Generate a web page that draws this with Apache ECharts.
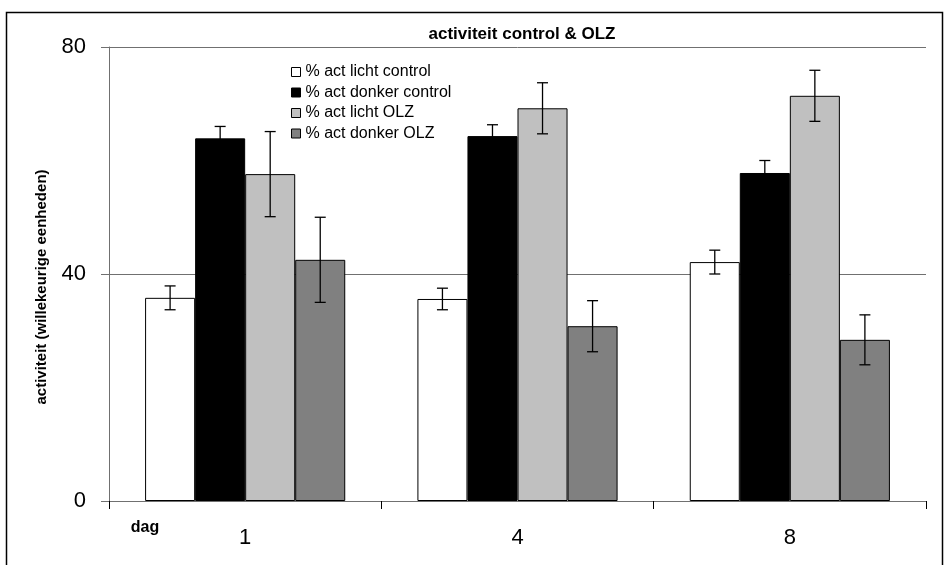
<!DOCTYPE html>
<html>
<head>
<meta charset="utf-8">
<script src="https://cdn.jsdelivr.net/npm/echarts@6/dist/echarts.min.js"></script>
<style>html,body{margin:0;padding:0;background:#fff}#c{width:944px;height:565px}</style>
</head>
<body>
<div id="c"></div>
<script>
const categories = ['1', '4', '8'];
const seriesNames = ['% act licht control', '% act donker control', '% act licht OLZ', '% act donker OLZ'];
const lichtControl = [35.8, 35.6, 42.1];
const lichtControlErr = [2.1, 1.9, 2.1];
const donkerControl = [63.9, 64.3, 57.8];
const donkerControlErr = [2.1, 2.0, 2.2];
const lichtOLZ = [57.6, 69.2, 71.4];
const lichtOLZErr = [7.5, 4.5, 4.5];
const donkerOLZ = [42.5, 30.8, 28.4];
const donkerOLZErr = [7.5, 4.5, 4.4];
const yTicks = [0, 40, 80];

const values = [lichtControl, donkerControl, lichtOLZ, donkerOLZ];
const errors = [lichtControlErr, donkerControlErr, lichtOLZErr, donkerOLZErr];
const colors = ['#FFFFFF', '#000000', '#C0C0C0', '#808080'];
const catGap = 0.265;
const FONT = 'Liberation Sans, Arial, sans-serif';

const chart = echarts.init(document.getElementById('c'), null, {renderer: 'canvas'});

const series = [];
values.forEach((v, i) => {
  series.push({
    name: seriesNames[i],
    type: 'bar',
    data: v,
    barGap: '0%',
    barCategoryGap: (catGap * 100) + '%',
    itemStyle: {color: colors[i], borderColor: '#000', borderWidth: 1},
    emphasis: {disabled: true},
    z: 2
  });
});
values.forEach((v, i) => {
  const errData = v.map((val, k) => [k, val, errors[i][k]]);
  series.push({
    type: 'custom',
    name: 'err' + i,
    data: errData,
    z: 5,
    silent: true,
    renderItem: function (params, api) {
      const k = api.value(0);
      const val = api.value(1);
      const e = api.value(2);
      const catW = api.size([1, 0])[0];
      const bw = catW * (1 - catGap) / 4;
      const center = api.coord([k, val]);
      const x = center[0] - 2 * bw + (i + 0.5) * bw;
      const top = api.coord([k, val + e])[1];
      const bot = api.coord([k, val - e])[1];
      const cap = 5.5;
      const st = {stroke: '#000', lineWidth: 1.3};
      return {
        type: 'group',
        children: [
          {type: 'line', shape: {x1: x, y1: top, x2: x, y2: bot}, style: st},
          {type: 'line', shape: {x1: x - cap, y1: top, x2: x + cap, y2: top}, style: st},
          {type: 'line', shape: {x1: x - cap, y1: bot, x2: x + cap, y2: bot}, style: st}
        ]
      };
    }
  });
});

chart.setOption({
  animation: false,
  backgroundColor: '#fff',
  title: {
    text: 'activiteit control & OLZ',
    left: 517, top: 21, textAlign: 'center',
    textStyle: {fontFamily: FONT, fontWeight: 'bold', fontSize: 17, color: '#000'}
  },
  legend: {
    data: seriesNames,
    orient: 'vertical',
    left: 286, top: 59,
    itemWidth: 9, itemHeight: 9, itemGap: 4.5,
    icon: 'rect',
    selectedMode: false,
    itemStyle: {borderColor: '#000', borderWidth: 1},
    textStyle: {fontFamily: FONT, fontSize: 16, color: '#000', lineHeight: 16, padding: [0, 0, 0, 0]}
  },
  grid: {left: 109, right: 18, top: 47, bottom: 64},
  xAxis: {
    type: 'category',
    data: categories,
    axisLine: {lineStyle: {color: '#707070', width: 1}},
    axisTick: {show: true, length: 8, lineStyle: {color: '#000'}},
    axisLabel: {fontFamily: FONT, fontSize: 22, color: '#000', margin: 26}
  },
  yAxis: {
    type: 'value',
    min: 0, max: 80, interval: 40,
    axisLine: {show: true, lineStyle: {color: '#707070', width: 1}},
    axisTick: {show: true, length: 8, lineStyle: {color: '#707070'}},
    axisLabel: {fontFamily: FONT, fontSize: 22, color: '#000', margin: 23,
      formatter: v => yTicks.includes(v) ? String(v) : ''},
    splitLine: {show: true, lineStyle: {color: '#707070', width: 1}}
  },
  graphic: [
    {type: 'rect', shape: {x: 6.5, y: 12.5, width: 936, height: 560}, style: {fill: 'none', stroke: '#000', lineWidth: 1.5}, silent: true},
    {type: 'text', x: 42, y: 287, rotation: Math.PI / 2,
      style: {text: 'activiteit (willekeurige eenheden)', fontFamily: FONT, fontWeight: 'bold', fontSize: 15, fill: '#000', align: 'center', verticalAlign: 'middle'}},
    {type: 'text', x: 145, y: 528,
      style: {text: 'dag', fontFamily: FONT, fontWeight: 'bold', fontSize: 16, fill: '#000', align: 'center', verticalAlign: 'middle'}}
  ],
  series: series
});
</script>
</body>
</html>
